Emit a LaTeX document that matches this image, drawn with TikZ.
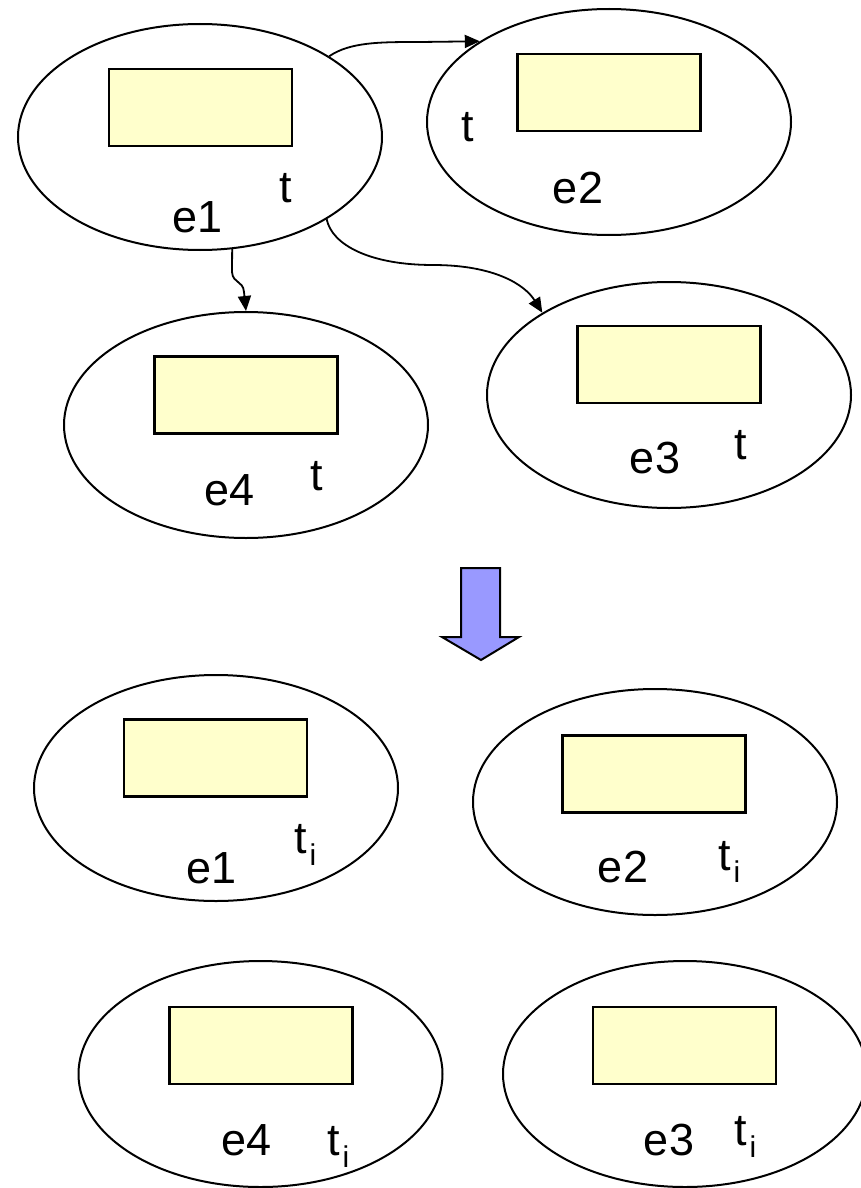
\documentclass[tikz,border=0pt]{standalone}
\usepackage{fontspec}
\setmainfont{Liberation Sans}
\usetikzlibrary{shapes.geometric,arrows.meta}
\definecolor{boxfill}{HTML}{FFFFCC}
\definecolor{arrowfill}{HTML}{9999FF}
\newcommand{\tsubi}{t\kern3pt\raisebox{-12pt}{\fontsize{30}{30}\selectfont i}}
\begin{document}
\begin{tikzpicture}[x=1pt,y=-1pt,
  blob/.style={ellipse,draw,line width=2pt,minimum width=364pt,minimum height=226pt,inner sep=0pt},
  slot/.style={rectangle,draw,line width=2.2pt,fill=boxfill,minimum width=183pt,minimum height=77pt,inner sep=0pt},
  lbl/.style={font=\fontsize{45}{50}\selectfont,inner sep=0pt,anchor=base},
  tlbl/.style={font=\fontsize{45}{50}\selectfont,inner sep=0pt,anchor=base west},
  link/.style={line width=1.8pt,-{Triangle[length=15pt,width=13pt]}},
  bigarrow/.style={draw,line width=2pt,fill=arrowfill,line join=miter}]
\fill[white] (0,0) rectangle (861,1188);
\clip (0,0) rectangle (861,1188);
\useasboundingbox (0,0) rectangle (861,1188);

% top group
\node[blob] (e1) at (200,137) {};
\node[slot] (r1) at (200.5,107.5) {};
\node[lbl] (l1) at (198,232) {e1};
\node[lbl] (t1) at (286,202) {t};

\node[blob] (e2) at (609,122) {};
\node[slot] (r2) at (609,92.5) {};
\node[lbl] (l2) at (578,203) {e2};
\node[lbl] (t2) at (468,142) {t};

\node[blob] (e4) at (246,425) {};
\node[slot] (r4) at (246,395) {};
\node[lbl] (l4) at (230,505) {e4};
\node[lbl] (t4) at (317,490) {t};

\node[blob] (e3) at (669,395) {};
\node[slot] (r3) at (669,364.5) {};
\node[lbl] (l3) at (655,473) {e3};
\node[lbl] (t3) at (741,459) {t};

% connectors
\draw[link] (e1.32.6) .. controls (350,42) and (380,42) .. (420,42) -- (e2.148.5);
\draw[link] (e1.-74.9) -- (232,272) .. controls (233,284) and (243,280) .. (244,292) -- (e4.north);
\draw[link] (e1.-33.2) .. controls (332,245) and (370,265) .. (433,265) .. controls (495,265) and (525,285) .. (e3.147.2);

% big arrow
\draw[bigarrow] (461,568) -- (500,568) -- (500,637) -- (519,637) -- (481,660) -- (442,637) -- (461,637) -- cycle;

% bottom group
\node[blob] (f1) at (216,788) {};
\node[slot] (s1) at (215.5,758) {};
\node[lbl] (m1) at (212,883) {e1};
\node[tlbl] (u1) at (294,853) {\tsubi};

\node[blob] (f2) at (655,802) {};
\node[slot] (s2) at (654,774) {};
\node[lbl] (m2) at (623,882) {e2};
\node[tlbl] (u2) at (718,870) {\tsubi};

\node[blob] (f4) at (260.5,1074) {};
\node[slot] (s4) at (261,1045.5) {};
\node[lbl] (m4) at (247,1155) {e4};
\node[tlbl] (u4) at (327,1155) {\tsubi};

\node[blob] (f3) at (685,1074) {};
\node[slot] (s3) at (684.5,1045.5) {};
\node[lbl] (m3) at (669,1155) {e3};
\node[tlbl] (u3) at (734,1145) {\tsubi};
\end{tikzpicture}
\end{document}
